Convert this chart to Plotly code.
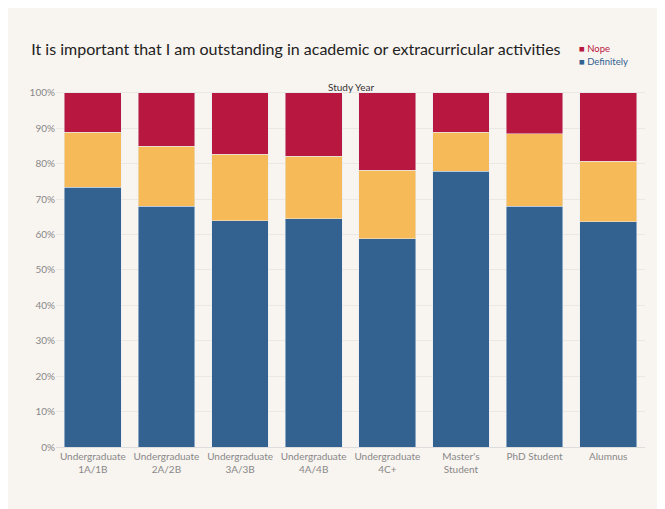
import plotly.graph_objects as go

categories = ["Undergraduate<br>1A/1B", "Undergraduate<br>2A/2B", "Undergraduate<br>3A/3B",
              "Undergraduate<br>4A/4B", "Undergraduate<br>4C+", "Master's<br>Student",
              "PhD Student", "Alumnus"]
definitely = [73.3, 67.9, 63.9, 64.5, 58.8, 77.8, 67.9, 63.6]
somewhat = [15.6, 17.0, 18.8, 17.6, 19.3, 11.1, 20.5, 17.1]
nope = [round(100 - d - s, 1) for d, s in zip(definitely, somewhat)]

BG = "#f8f4f0"
BLUE, YELLOW, RED = "#336290", "#f6bb58", "#b8173f"
fig = go.Figure()
fig.add_bar(x=categories, y=definitely, name="Definitely", marker_color=BLUE)
fig.add_bar(x=categories, y=somewhat, name="Somewhat", marker_color=YELLOW)
fig.add_bar(x=categories, y=nope, name="Nope", marker_color=RED)

# hand-drawn legend, Tableau style (coloured text per item)
legend_items = [("■ Nope", RED, 1.14), ("■ Definitely", BLUE, 1.105)]
annotations = [dict(text="Study Year", x=0.5, y=1.035, xref="paper", yref="paper",
                    showarrow=False, font=dict(size=10, color="#333"))]
for txt, col, yy in legend_items:
    annotations.append(dict(text=txt, x=0.885, y=yy, xref="paper", yref="paper",
                            xanchor="left", showarrow=False, font=dict(size=9.5, color=col)))

fig.update_layout(
    barmode="stack", bargap=0.23,
    width=665, height=509,
    paper_bgcolor=BG, plot_bgcolor=BG,
    font=dict(family="Lato", size=10, color="#888"),
    margin=dict(l=48, r=28, t=83, b=70),
    title=dict(text="It is important that I am outstanding in academic or extracurricular activities",
               x=0.035, y=0.93, xanchor="left", font=dict(size=16, color="#222", family="Lato")),
    annotations=annotations,
    showlegend=False,
)
fig.update_yaxes(range=[0, 100.5], dtick=10, ticksuffix="%", showgrid=True,
                 gridcolor="#ebe7e3", zeroline=False, tickfont=dict(size=10))
fig.update_xaxes(showline=True, linecolor="#ddd", tickfont=dict(size=10))
fig.write_html("out.html")
